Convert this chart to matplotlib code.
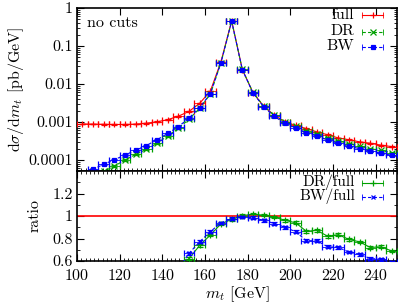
import numpy as np
import matplotlib
matplotlib.use("Agg")
import matplotlib.pyplot as plt
from matplotlib.ticker import MultipleLocator, LogLocator, NullFormatter, FixedLocator, FixedFormatter

plt.rcParams['font.family'] = 'serif'
plt.rcParams['font.serif'] = ['cmr10', 'DejaVu Serif']
plt.rcParams['mathtext.fontset'] = 'cm'
plt.rcParams['axes.unicode_minus'] = False

# ---- data ----
mt_centers = [102.5, 107.5, 112.5, 117.5, 122.5, 127.5, 132.5, 137.5, 142.5, 147.5,
              152.5, 157.5, 162.5, 167.5, 172.5, 177.5, 182.5, 187.5, 192.5, 197.5,
              202.5, 207.5, 212.5, 217.5, 222.5, 227.5, 232.5, 237.5, 242.5, 247.5]
bin_half_width = 2.5

full = [8.9e-4, 8.8e-4, 8.7e-4, 8.6e-4, 8.6e-4, 8.8e-4, 9.3e-4, 1.01e-3, 1.15e-3, 1.42e-3,
        1.9e-3, 3.1e-3, 6.5e-3, 0.039, 0.46, 0.024, 5.9e-3, 2.6e-3, 1.5e-3, 1.02e-3,
        8.1e-4, 6.7e-4, 5.5e-4, 4.6e-4, 3.8e-4, 3.4e-4, 3.0e-4, 2.75e-4, 2.45e-4, 2.25e-4]

dr = [2.8e-5, 3.7e-5, 5.0e-5, 6.9e-5, 1.0e-4, 1.4e-4, 1.9e-4, 2.75e-4, 4.3e-4, 6.8e-4,
      1.18e-3, 2.29e-3, 5.4e-3, 0.0363, 0.446, 0.0241, 5.99e-3, 2.62e-3, 1.485e-3, 9.81e-4,
      7.61e-4, 5.79e-4, 4.80e-4, 3.77e-4, 3.17e-4, 2.69e-4, 2.31e-4, 1.98e-4, 1.78e-4, 1.55e-4]

bw = [4.3e-5, 5.7e-5, 7.7e-5, 1.02e-4, 1.35e-4, 1.8e-4, 2.4e-4, 3.4e-4, 5.0e-4, 7.5e-4,
      1.27e-3, 2.39e-3, 5.6e-3, 0.0366, 0.449, 0.0238, 5.81e-3, 2.50e-3, 1.40e-3, 9.18e-4,
      6.97e-4, 5.23e-4, 4.29e-4, 3.34e-4, 2.74e-4, 2.31e-4, 1.98e-4, 1.71e-4, 1.51e-4, 1.33e-4]

rel_err_full = 0.02
rel_err_var = 0.04
ratio_err = 0.012

main_yticks = [1e-4, 1e-3, 1e-2, 1e-1, 1]
main_yticklabels = ['0.0001', '0.001', '0.01', '0.1', '1']
ratio_yticks = [0.6, 0.8, 1.0, 1.2]
ratio_yticklabels = ['0.6', '0.8', '1', '1.2']
xticks = [100, 120, 140, 160, 180, 200, 220, 240]

# ---- styles ----
RED = '#ff0000'
GREEN = '#00a000'
BLUE = '#0000ff'
FS = 11.5
DASH = (0, (3, 2))

x = np.array(mt_centers)
full_a = np.array(full)
dr_a = np.array(dr)
bw_a = np.array(bw)

W, H = 399, 303
fig = plt.figure(figsize=(W / 100, H / 100), dpi=100)
L, R = 77, 397
ax1 = fig.add_axes([L / W, 1 - 171 / H, (R - L) / W, (171 - 8) / H])
ax2 = fig.add_axes([L / W, 1 - 261 / H, (R - L) / W, (261 - 171) / H])

common = dict(xerr=bin_half_width, lw=0.8, mew=0.9, elinewidth=0.6, capsize=2.0, capthick=0.6)

# main panel
ax1.errorbar(x, full_a, yerr=full_a * rel_err_full, color=RED, marker='+', ls='-', ms=5,
             zorder=3, **common)
ax1.errorbar(x, dr_a, yerr=dr_a * rel_err_var, color=GREEN, marker='x', ls=DASH, ms=4,
             zorder=4, **common)
ax1.errorbar(x, bw_a, yerr=bw_a * rel_err_var, color=BLUE, marker='s', ls=DASH, ms=3,
             zorder=5, **common)

ax1.set_yscale('log')
ax1.set_xlim(100, 250)
ax1.set_ylim(10 ** (-4.29), 1)
ax1.yaxis.set_major_locator(FixedLocator(main_yticks))
ax1.yaxis.set_major_formatter(FixedFormatter(main_yticklabels))
ax1.yaxis.set_minor_locator(LogLocator(base=10, subs=np.arange(2, 10)))
ax1.yaxis.set_minor_formatter(NullFormatter())
ax1.set_xticks(xticks)
ax1.xaxis.set_minor_locator(MultipleLocator(2))
ax1.tick_params(axis='x', which='both', labelbottom=False, direction='in', top=True)
ax1.set_ylabel(r'$\mathrm{d}\sigma/\mathrm{d}m_t$ [pb/GeV]', fontsize=FS, labelpad=2)
ax1.text(0.031, 0.906, 'no cuts', transform=ax1.transAxes, fontsize=FS, ha='left', va='center')

# ratio panel
ax2.axhline(1.0, color=RED, lw=1.2, zorder=2)
ax2.errorbar(x, dr_a / full_a, yerr=ratio_err, color=GREEN, marker='+', ls='-', ms=4,
             zorder=4, **common)
ax2.errorbar(x, bw_a / full_a, yerr=ratio_err, color=BLUE, marker='x', ls=DASH, ms=3.5,
             zorder=5, **common)
ax2.set_xlim(100, 250)
ax2.set_ylim(0.6, 1.4)
ax2.set_xticks(xticks)
ax2.set_xticklabels([str(t) for t in xticks])
ax2.xaxis.set_minor_locator(MultipleLocator(2))
ax2.yaxis.set_major_locator(FixedLocator(ratio_yticks))
ax2.yaxis.set_major_formatter(FixedFormatter(ratio_yticklabels))
ax2.yaxis.set_minor_locator(MultipleLocator(0.1))
ax2.tick_params(axis='x', which='both', direction='in', top=True)
ax2.set_xlabel(r'$m_t$ [GeV]', fontsize=FS, labelpad=1)
ax2.set_ylabel('ratio', fontsize=FS, labelpad=8)

for ax in (ax1, ax2):
    ax.tick_params(axis='both', which='major', length=5, width=0.8, direction='in',
                   labelsize=FS, right=True, pad=3)
    ax.tick_params(axis='both', which='minor', length=2.5, width=0.6, direction='in', right=True)
    for sp in ax.spines.values():
        sp.set_linewidth(1.2)

ax2.tick_params(axis='x', which='major', pad=6)
ax1.tick_params(axis='x', which='minor', top=False)
fig.align_ylabels([ax1, ax2])


# manual legends (gnuplot-style: right-aligned text, sample on the right)
def legend_entry(ax, ytxt, label, color, marker, ls, ms, x0=0.89, x1=0.957, xt=0.866, fs=FS):
    tr = ax.transAxes
    ax.text(xt, ytxt, label, transform=tr, ha='right', va='center', fontsize=fs)
    ax.plot([x0, x1], [ytxt, ytxt], transform=tr, color=color, lw=0.8, ls=ls, clip_on=False)
    ax.plot([x0, x1], [ytxt, ytxt], transform=tr, color=color, ls='none', marker='|', ms=4,
            mew=0.6, clip_on=False)
    ax.plot([(x0 + x1) / 2], [ytxt], transform=tr, color=color, ls='none', marker=marker,
            ms=ms, mew=0.9, clip_on=False)


legend_entry(ax1, 0.957, 'full', RED, '+', '-', 5)
legend_entry(ax1, 0.855, 'DR', GREEN, 'x', DASH, 4)
legend_entry(ax1, 0.763, 'BW', BLUE, 's', DASH, 3)
legend_entry(ax2, 0.872, 'DR/full', GREEN, '+', '-', 4, xt=0.869, fs=11)
legend_entry(ax2, 0.715, 'BW/full', BLUE, 'x', DASH, 3.5, xt=0.869, fs=11)

fig.savefig('out.png', dpi=100)
